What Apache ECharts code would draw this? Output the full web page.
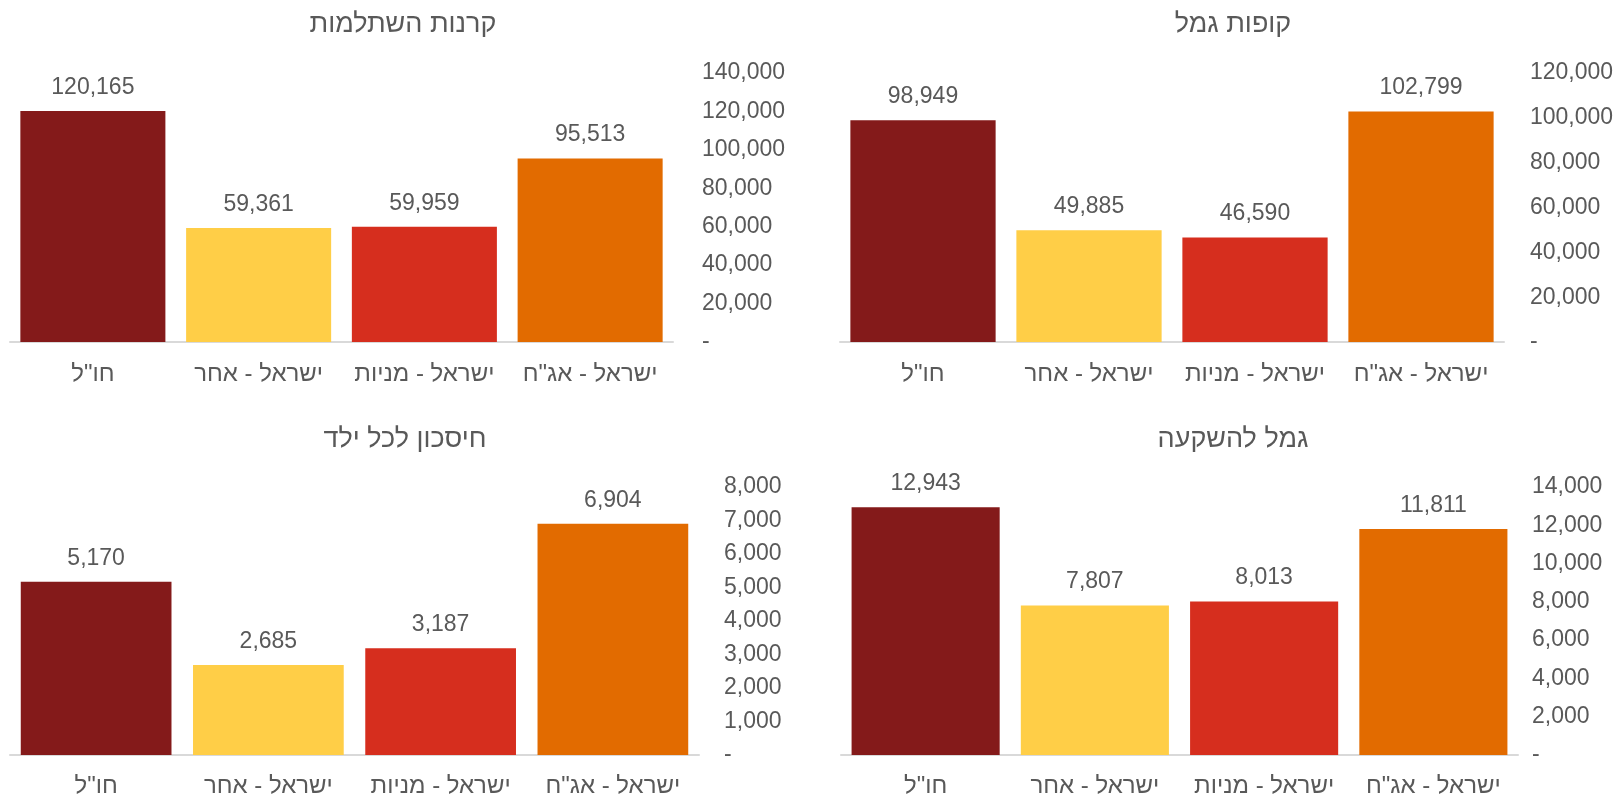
<!DOCTYPE html>
<html>
<head>
<meta charset="utf-8">
<script src="https://cdn.jsdelivr.net/npm/echarts@6/dist/echarts.min.js"></script>
<style>
html,body{margin:0;padding:0;background:#fff;overflow:hidden;}
#c{width:1623px;height:798px;}
</style>
</head>
<body>
<div id="c"></div>
<script>
const categories = ['חו"ל', 'ישראל - אחר', 'ישראל - מניות', 'ישראל - אג"ח'];
const colors = ['#841a1a', '#ffce47', '#d62e1e', '#e26b00'];

const titleHishtalmut = 'קרנות השתלמות';
const valuesHishtalmut = [120165, 59361, 59959, 95513];

const titleGemel = 'קופות גמל';
const valuesGemel = [98949, 49885, 46590, 102799];

const titleChild = 'חיסכון לכל ילד';
const valuesChild = [5170, 2685, 3187, 6904];

const titleInvest = 'גמל להשקעה';
const valuesInvest = [12943, 7807, 8013, 11811];

const FONT = '"Liberation Sans", Arial, sans-serif';
const TEXT = '#595959';

const panels = [
  {title: titleHishtalmut, values: valuesHishtalmut, max: 140000, interval: 20000,
   grid: {left: 10, top: 73, width: 663, height: 269}, titleX: 398, titleY: 6, labelMargin: 29, catMargin: 20},
  {title: titleGemel, values: valuesGemel, max: 120000, interval: 20000,
   grid: {left: 840, top: 73, width: 664, height: 269}, titleX: 1228, titleY: 6, labelMargin: 26, catMargin: 20},
  {title: titleChild, values: valuesChild, max: 8000, interval: 1000,
   grid: {left: 10, top: 487, width: 689, height: 271}, titleX: 400, titleY: 421, labelMargin: 25, catMargin: 19},
  {title: titleInvest, values: valuesInvest, max: 14000, interval: 2000,
   grid: {left: 841, top: 487, width: 677, height: 271}, titleX: 1228, titleY: 421, labelMargin: 14, catMargin: 19}
];

const fmt = v => v === 0 ? '-' : v.toLocaleString('en-US');

const option = {
  backgroundColor: '#fff',
  animation: false,
  title: panels.map(p => ({
    text: p.title, left: p.titleX, top: p.titleY, textAlign: 'center',
    textStyle: {fontFamily: FONT, fontSize: 27, fontWeight: 'normal', color: TEXT}
  })),
  grid: panels.map(p => Object.assign({containLabel: false}, p.grid)),
  xAxis: panels.map((p, i) => ({
    type: 'category', gridIndex: i, data: categories, position: 'bottom',
    axisLine: {show: true, lineStyle: {color: '#d9d9d9', width: 2}},
    axisTick: {show: false},
    axisLabel: {fontFamily: FONT, fontSize: 24, color: TEXT, margin: p.catMargin, interval: 0}
  })),
  yAxis: panels.map((p, i) => ({
    type: 'value', gridIndex: i, position: 'right', min: 0, max: p.max, interval: p.interval,
    splitLine: {show: false}, axisLine: {show: false}, axisTick: {show: false},
    axisLabel: {fontFamily: FONT, fontSize: 23, color: TEXT, align: 'left', margin: p.labelMargin,
      padding: [4, 0, 0, 0], formatter: fmt}
  })),
  series: panels.map((p, i) => ({
    type: 'bar', xAxisIndex: i, yAxisIndex: i,
    barCategoryGap: '12.5%',
    data: p.values.map((v, j) => ({value: v, itemStyle: {color: colors[j]}})),
    label: {show: true, position: 'top', distance: 12, fontFamily: FONT, fontSize: 23, color: TEXT,
      formatter: d => d.value.toLocaleString('en-US')}
  }))
};

const chart = echarts.init(document.getElementById('c'), null, {renderer: 'canvas'});
chart.setOption(option);
</script>
</body>
</html>
